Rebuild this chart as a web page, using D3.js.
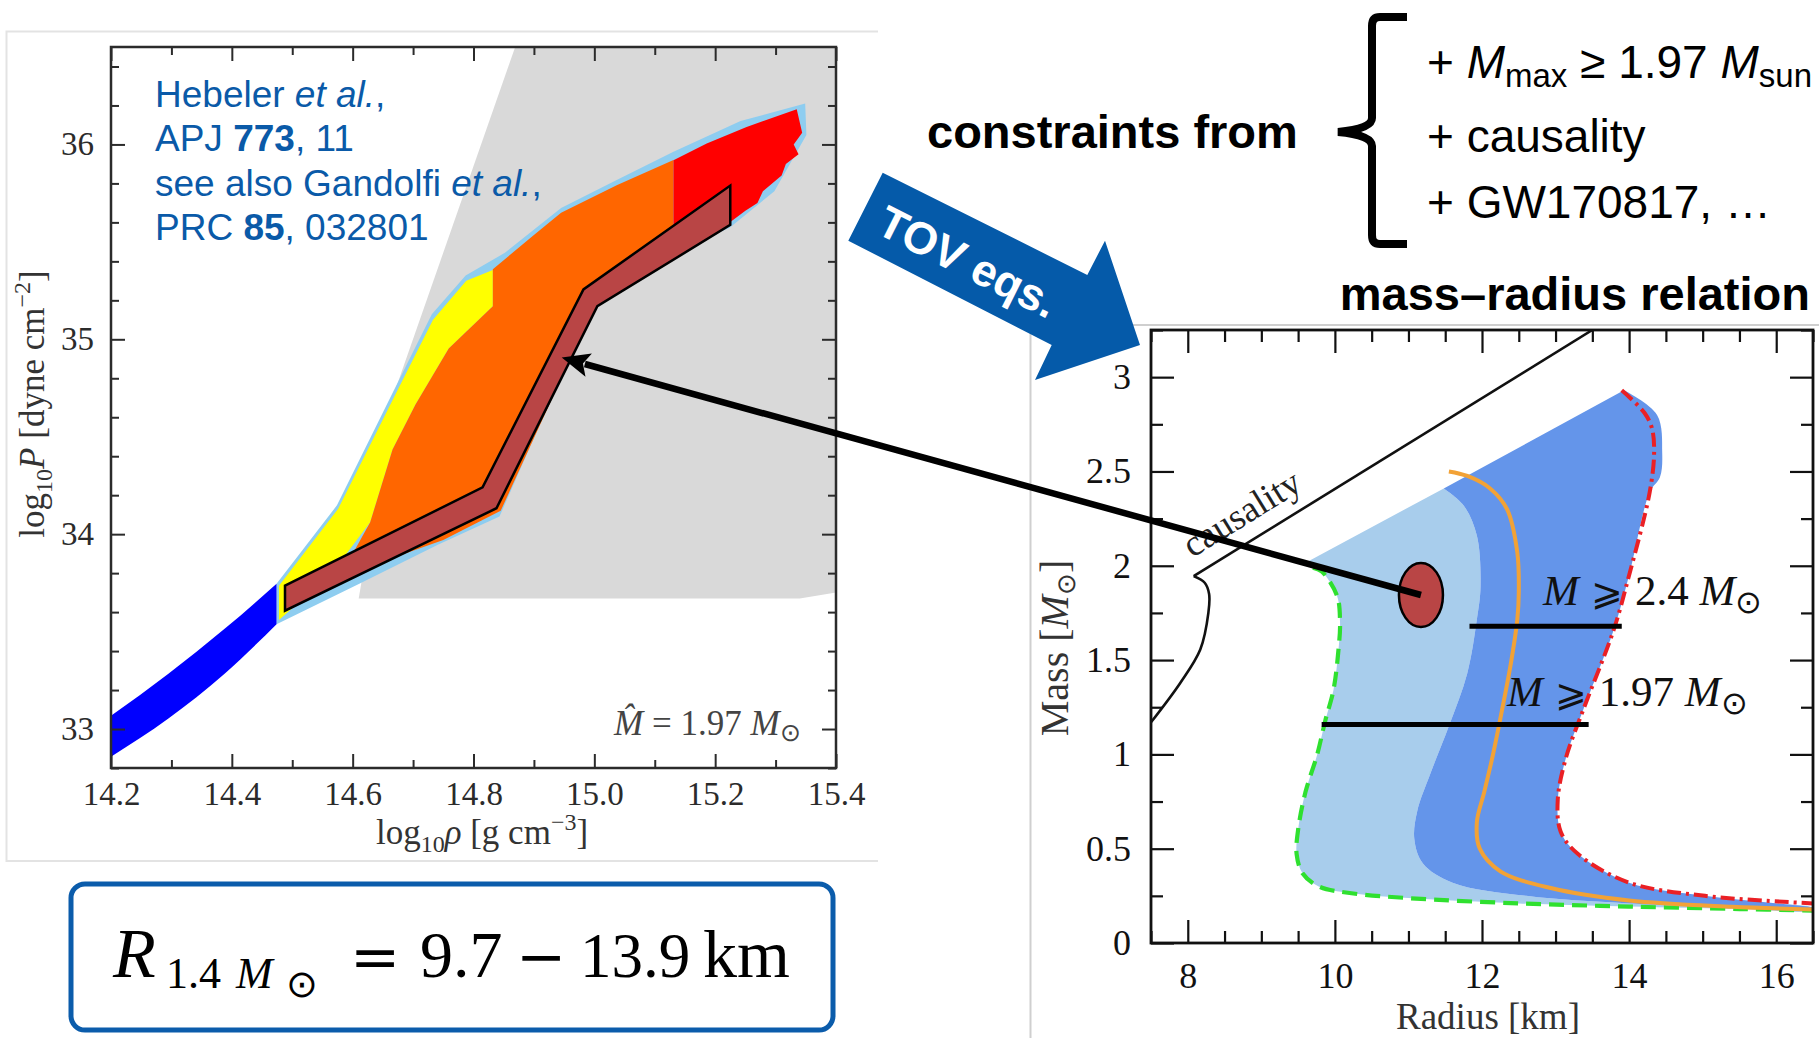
<!DOCTYPE html>
<html>
<head>
<meta charset="utf-8">
<script src="https://cdn.jsdelivr.net/npm/d3@7"></script>
<style>
  body { margin: 0; background: #fff; }
  svg { display: block; }
</style>
</head>
<body>
<svg id="slide" width="1819" height="1038"></svg>
<script>
// ---- left panel: EOS band, log10 rho vs log10 P ----
const eosGray = [[14.869,36.5],[15.4,36.5],[15.4,33.70],[15.34,33.67],[14.61,33.67],[14.666,34.70]];
const eosEnvelope = [[14.474,33.745],[14.574,34.148],[14.666,34.724],[14.731,35.128],[14.787,35.328],[14.852,35.444],
  [14.945,35.674],[15.037,35.818],[15.131,35.962],[15.242,36.12],[15.349,36.21],[15.351,36.048],[15.298,35.76],
  [15.224,35.573],[15.131,35.444],[15.038,35.27],[15.0,35.17],[14.973,34.983],[14.908,34.55],[14.843,34.09],
  [14.741,33.946],[14.611,33.745],[14.474,33.538]];
const eosYellow = [[14.478,33.735],[14.576,34.13],[14.668,34.70],[14.733,35.10],[14.788,35.30],[14.832,35.355],
  [14.832,35.17],[14.759,34.953],[14.704,34.666],[14.666,34.435],[14.629,34.061],[14.58,33.86],[14.50,33.62],[14.478,33.56]];
const eosOrange = [[14.832,35.36],[14.898,35.53],[14.945,35.65],[15.037,35.79],[15.131,35.92],[15.131,35.52],
  [15.05,35.33],[15.01,35.20],[14.975,35.0],[14.91,34.56],[14.845,34.12],[14.75,33.97],[14.64,33.85],[14.60,33.90],
  [14.629,34.061],[14.666,34.435],[14.704,34.666],[14.759,34.953],[14.832,35.17]];
const eosRed = [[15.131,35.919],[15.186,36.005],[15.252,36.09],[15.335,36.18],[15.344,36.06],[15.33,36.0],
  [15.338,35.95],[15.317,35.90],[15.31,35.84],[15.279,35.76],[15.27,35.70],[15.25,35.66],[15.224,35.60],
  [15.19,35.58],[15.131,35.52]];
const crustTop = [[14.2,33.068],[14.295,33.284],[14.388,33.514],[14.474,33.745]];
const crustBottom = [[14.2,32.858],[14.295,33.054],[14.388,33.284],[14.474,33.538]];
const highlightBand = [[14.488,33.736],[14.815,34.24],[14.982,35.256],[15.225,35.789],[15.225,35.587],
  [15.005,35.17],[14.838,34.133],[14.488,33.607]];
const rhoTicks = [14.2,14.4,14.6,14.8,15.0,15.2,15.4];
const rhoMinor = [14.3,14.5,14.7,14.9,15.1,15.3];
const pTicks = [33,34,35,36];
const pMinor = [32.8,33.2,33.4,33.6,33.8,34.2,34.4,34.6,34.8,35.2,35.4,35.6,35.8,36.2,36.4];

// ---- right panel: mass-radius ----
const greenEdge = [[9.7,1.99],[9.82,1.97],[10.03,1.84],[10.07,1.70],[10.05,1.56],[9.98,1.34],[9.87,1.18],[9.76,1.0],
  [9.6,0.8],[9.5,0.6],[9.48,0.47],[9.56,0.37],[9.78,0.30],[10.2,0.265],[11,0.238],[12.5,0.21],[14,0.193],[15.5,0.18],[16.5,0.172]];
const lightCorner = [9.57,2.01];
const darkEdge = [[11.48,2.41],[11.75,2.32],[11.93,2.16],[11.98,1.89],[11.93,1.715],[11.8,1.43],[11.55,1.15],
  [11.3,0.9],[11.12,0.7],[11.08,0.55],[11.2,0.42],[11.6,0.32],[12.6,0.25],[14,0.21],[16.5,0.187]];
const redEdge = [[13.90,2.93],[14.21,2.81],[14.31,2.73],[14.34,2.60],[14.28,2.39],[14.0,1.95],[13.79,1.66],
  [13.38,1.24],[13.14,0.98],[13.03,0.76],[13.07,0.59],[13.31,0.47],[14.0,0.32],[15.03,0.25],[16.5,0.21]];
const darkTopRight = [[14.42,2.47],[14.45,2.6],[14.38,2.80],[13.93,2.93]];
const orangeLine = [[11.55,2.50],[11.80,2.476],[12.11,2.41],[12.34,2.30],[12.48,2.07],[12.5,1.86],[12.48,1.715],
  [12.4,1.5],[12.28,1.25],[12.15,1.0],[12.03,0.8],[11.93,0.64],[11.97,0.5],[12.25,0.38],[12.95,0.29],[14,0.225],
  [15.4,0.192],[16.5,0.178]];
const causalityCurve = [[7.5,1.17],[7.9,1.38],[8.17,1.556],[8.28,1.75],[8.29,1.85],[8.23,1.91],[8.08,1.945]];
const causalityLine = [[8.08,1.945],[13.5,3.25]];
const limitMass = [1.68, 1.158];
const limitR0 = [11.83, 9.82];
const limitR1 = [13.9, 13.45];
const limitLabels = ["2.4", "1.97"];
const radiusTicks = [8,10,12,14,16];
const radiusMinor = [7.5,8.5,9,9.5,10.5,11,11.5,12.5,13,13.5,14.5,15,15.5,16.5];
const massTicks = [0,0.5,1,1.5,2,2.5,3];
const massMinor = [0.25,0.75,1.25,1.75,2.25,2.75,3.25];
const starPoint = [11.17, 1.845];
const eosPoint = [14.946, 34.906];

const svg = d3.select("#slide");
const SERIF = "'Liberation Serif','Times New Roman',serif";
const SANS = "'Liberation Sans',Arial,sans-serif";
const BLUE = "#0a5aa8";

// panel borders (pasted figures)
svg.append("path").attr("d", "M878,31.5H6.5V861H878").attr("fill", "none").attr("stroke", "#e3e3e3").attr("stroke-width", 2);
svg.append("path").attr("d", "M1819,325H1030.5V1038").attr("fill", "none").attr("stroke", "#cfcfcf").attr("stroke-width", 2);

// ---------------- left chart ----------------
const xL = d3.scaleLinear().domain([14.2, 15.4]).range([111, 836]);
const yL = d3.scaleLinear().domain([32.8, 36.5]).range([768, 47]);
const lineL = d3.line().x(d => xL(d[0])).y(d => yL(d[1]));
const smoothL = d3.line().x(d => xL(d[0])).y(d => yL(d[1])).curve(d3.curveMonotoneX);

svg.append("clipPath").attr("id", "clipL").append("rect")
  .attr("x", xL(14.2)).attr("y", yL(36.5)).attr("width", xL(15.4) - xL(14.2)).attr("height", yL(32.8) - yL(36.5));
const gL = svg.append("g").attr("clip-path", "url(#clipL)");

gL.append("path").attr("d", lineL(eosGray) + "Z").attr("fill", "#d9d9d9");
gL.append("path").attr("d", lineL(eosEnvelope) + "Z").attr("fill", "#8ecdf0");
gL.append("path").attr("d", lineL(eosYellow) + "Z").attr("fill", "#ffff00");
gL.append("path").attr("d", lineL(eosOrange) + "Z").attr("fill", "#ff6600");
gL.append("path").attr("d", lineL(eosRed) + "Z").attr("fill", "#ff0000");
gL.append("path").attr("d", smoothL(crustTop) + "L" + smoothL(crustBottom.slice().reverse()).slice(1) + "Z").attr("fill", "#0000ff");
gL.append("path").attr("d", lineL(highlightBand) + "Z")
  .attr("fill", "#b94545").attr("stroke", "#000").attr("stroke-width", 2.5).attr("stroke-linejoin", "miter");

function frameAxes(x, y, opt) {
  const [x0, x1] = x.range(), [y0, y1] = y.range();
  const mk = (g, axis) => g.call(axis).call(s => s.select(".domain").remove());
  const style = g => g.attr("color", opt.color).attr("font-family", SERIF).attr("font-size", opt.fs)
    .selectAll("line").attr("stroke-width", opt.tw);
  // bottom
  style(mk(svg.append("g").attr("transform", `translate(0,${y0})`),
    d3.axisBottom(x).tickValues(opt.xt).tickSize(-opt.big).tickPadding(opt.xpad).tickFormat(opt.xf)));
  style(mk(svg.append("g").attr("transform", `translate(0,${y0})`),
    d3.axisBottom(x).tickValues(opt.xm).tickSize(-opt.small).tickFormat("")));
  // top
  style(mk(svg.append("g").attr("transform", `translate(0,${y1})`),
    d3.axisTop(x).tickValues(opt.xt).tickSize(-opt.big).tickFormat("")));
  style(mk(svg.append("g").attr("transform", `translate(0,${y1})`),
    d3.axisTop(x).tickValues(opt.xm).tickSize(-opt.small).tickFormat("")));
  // left
  style(mk(svg.append("g").attr("transform", `translate(${x0},0)`),
    d3.axisLeft(y).tickValues(opt.yt).tickSize(-opt.big).tickPadding(opt.ypad).tickFormat(opt.yf)));
  style(mk(svg.append("g").attr("transform", `translate(${x0},0)`),
    d3.axisLeft(y).tickValues(opt.ym).tickSize(-opt.small).tickFormat("")));
  // right
  style(mk(svg.append("g").attr("transform", `translate(${x1},0)`),
    d3.axisRight(y).tickValues(opt.yt).tickSize(-opt.big).tickFormat("")));
  style(mk(svg.append("g").attr("transform", `translate(${x1},0)`),
    d3.axisRight(y).tickValues(opt.ym).tickSize(-opt.small).tickFormat("")));
  svg.append("rect").attr("x", x0).attr("y", y1).attr("width", x1 - x0).attr("height", y0 - y1)
    .attr("fill", "none").attr("stroke", opt.color).attr("stroke-width", opt.fw);
}

frameAxes(xL, yL, {
  xt: rhoTicks, xm: rhoMinor, yt: pTicks, ym: pMinor, big: 14, small: 8, tw: 2, fw: 2.5,
  xpad: 14, ypad: 17, xf: d3.format(".1f"), yf: d3.format("d"), fs: 33, color: "#2b2b2b"
});

// axis titles (left)
const xt = svg.append("text").attr("x", 482).attr("y", 844).attr("text-anchor", "middle")
  .attr("font-family", SERIF).attr("font-size", 35).attr("fill", "#333");
xt.append("tspan").text("log");
xt.append("tspan").attr("font-size", 24).attr("dy", 8).text("10");
xt.append("tspan").attr("dy", -8).attr("font-style", "italic").text("\u03c1");
xt.append("tspan").text(" [g cm");
xt.append("tspan").attr("font-size", 24).attr("dy", -14).text("\u22123");
xt.append("tspan").attr("dy", 14).text("]");

const yt = svg.append("text").attr("transform", "translate(44,404) rotate(-90)").attr("text-anchor", "middle")
  .attr("font-family", SERIF).attr("font-size", 35).attr("fill", "#333");
yt.append("tspan").text("log");
yt.append("tspan").attr("font-size", 24).attr("dy", 8).text("10");
yt.append("tspan").attr("dy", -8).attr("font-style", "italic").text("P");
yt.append("tspan").text(" [dyne cm");
yt.append("tspan").attr("font-size", 24).attr("dy", -14).text("\u22122");
yt.append("tspan").attr("dy", 14).text("]");

const mh = svg.append("text").attr("x", 614).attr("y", 735).attr("font-family", SERIF).attr("font-size", 35).attr("fill", "#444");
mh.append("tspan").attr("font-style", "italic").text("M\u0302");
mh.append("tspan").text(" = 1.97 ");
mh.append("tspan").attr("font-style", "italic").text("M");
mh.append("tspan").attr("font-size", 25).attr("dy", 6).text("\u2299");

// reference text
const refLines = [
  [["Hebeler ", ""], ["et al.", "i"], [",", ""]],
  [["APJ ", ""], ["773", "b"], [", 11", ""]],
  [["see also Gandolfi ", ""], ["et al.", "i"], [",", ""]],
  [["PRC ", ""], ["85", "b"], [", 032801", ""]]
];
refLines.forEach((ln, i) => {
  const t = svg.append("text").attr("x", 155).attr("y", 106.6 + i * 44.6)
    .attr("font-family", SANS).attr("font-size", 37).attr("fill", BLUE);
  ln.forEach(([s, st]) => {
    const sp = t.append("tspan").text(s);
    if (st === "i") sp.attr("font-style", "italic");
    if (st === "b") sp.attr("font-weight", "bold");
  });
});

// ---------------- right chart ----------------
const xR = d3.scaleLinear().domain([7.5, 16.5]).range([1151, 1813]);
const yR = d3.scaleLinear().domain([0, 3.25]).range([943, 330]);
const lineR = d3.line().x(d => xR(d[0])).y(d => yR(d[1]));
const smoothR = d3.line().x(d => xR(d[0])).y(d => yR(d[1])).curve(d3.curveCatmullRom.alpha(0.5));

svg.append("clipPath").attr("id", "clipR").append("rect")
  .attr("x", xR(7.5)).attr("y", yR(3.25)).attr("width", xR(16.5) - xR(7.5)).attr("height", yR(0) - yR(3.25));
const gR = svg.append("g").attr("clip-path", "url(#clipR)");

const lightPoly = [lightCorner].concat(greenEdge, darkEdge.slice().reverse());
gR.append("path").attr("d", smoothR(lightPoly) + "Z").attr("fill", "#a8cdec");
const darkPoly = darkEdge.concat(redEdge.slice(0, -1).reverse().filter(d => d[1] < 2.45), darkTopRight);
gR.append("path").attr("d", smoothR(darkPoly) + "Z").attr("fill", "#6495ea");

gR.append("path").attr("d", smoothR(greenEdge)).attr("fill", "none").attr("stroke", "#2fe02f")
  .attr("stroke-width", 4.2).attr("stroke-dasharray", "15,8");
gR.append("path").attr("d", smoothR(redEdge)).attr("fill", "none").attr("stroke", "#ea2025")
  .attr("stroke-width", 4).attr("stroke-dasharray", "14,5,3,5");
gR.append("path").attr("d", smoothR(orangeLine)).attr("fill", "none").attr("stroke", "#f2a236").attr("stroke-width", 4);
gR.append("path").attr("d", smoothR(causalityCurve)).attr("fill", "none").attr("stroke", "#111").attr("stroke-width", 2.6);
gR.append("path").attr("d", lineR(causalityLine)).attr("fill", "none").attr("stroke", "#111").attr("stroke-width", 2.6);

// causality label along the line
const ang = Math.atan2(yR(causalityLine[1][1]) - yR(causalityLine[0][1]), xR(causalityLine[1][0]) - xR(causalityLine[0][0])) * 180 / Math.PI;
svg.append("text").attr("transform", `translate(${xR(8.06)},${yR(2.04)}) rotate(${ang})`)
  .attr("font-family", SERIF).attr("font-size", 37).attr("fill", "#222").text("causality");

// mass limit lines
limitMass.forEach((m, i) => {
  svg.append("line").attr("x1", xR(limitR0[i])).attr("x2", xR(limitR1[i])).attr("y1", yR(m)).attr("y2", yR(m))
    .attr("stroke", "#000").attr("stroke-width", 5);
});
[[12.83, 1.79], [12.34, 1.256]].forEach(([r, m], i) => {
  const t = svg.append("text").attr("x", xR(r)).attr("y", yR(m)).attr("font-family", SERIF).attr("font-size", 43).attr("fill", "#111");
  t.append("tspan").attr("font-style", "italic").text("M");
  t.append("tspan").attr("font-family", "'DejaVu Sans',sans-serif").attr("font-size", 38).text(" \u2A7E ");
  t.append("tspan").text(limitLabels[i] + " ");
  t.append("tspan").attr("font-style", "italic").text("M");
  t.append("tspan").attr("font-size", 32).attr("dy", 8).text("\u2299");
});

frameAxes(xR, yR, {
  xt: radiusTicks, xm: radiusMinor, yt: massTicks, ym: massMinor, big: 23, small: 12, tw: 2.2, fw: 2.8,
  xpad: 19, ypad: 20, xf: d3.format("d"), yf: d => String(d), fs: 36, color: "#111"
});

svg.append("text").attr("x", 1488).attr("y", 1029).attr("text-anchor", "middle")
  .attr("font-family", SERIF).attr("font-size", 37).attr("fill", "#333").text("Radius [km]");
const mt = svg.append("text").attr("transform", "translate(1068,648) rotate(-90)").attr("text-anchor", "middle")
  .attr("font-family", SERIF).attr("font-size", 40).attr("fill", "#333");
mt.append("tspan").text("Mass [");
mt.append("tspan").attr("font-style", "italic").text("M");
mt.append("tspan").attr("font-size", 26).attr("dy", 7).text("\u2299");
mt.append("tspan").attr("dy", -7).text("]");

// star ellipse
svg.append("ellipse").attr("cx", xR(starPoint[0])).attr("cy", yR(starPoint[1])).attr("rx", 22).attr("ry", 32)
  .attr("fill", "#b94545").attr("stroke", "#000").attr("stroke-width", 2.5);

// black arrow from star to EOS band
{
  const sx = xR(starPoint[0]), sy = yR(starPoint[1]);
  const tx = xL(eosPoint[0]), ty = yL(eosPoint[1]);
  const dx = tx - sx, dy = ty - sy, len = Math.hypot(dx, dy), ux = dx / len, uy = dy / len;
  const hl = 28, hw = 12;
  const bx = tx - ux * hl, by = ty - uy * hl;
  svg.append("line").attr("x1", sx).attr("y1", sy).attr("x2", bx + ux * 4).attr("y2", by + uy * 4)
    .attr("stroke", "#000").attr("stroke-width", 6.5);
  svg.append("path").attr("d", `M${tx},${ty}L${bx - uy * hw},${by + ux * hw}L${bx + ux * 6},${by + uy * 6}L${bx + uy * hw},${by - ux * hw}Z`)
    .attr("fill", "#000");
}

// ---------------- blue TOV arrow ----------------
svg.append("path").attr("d", "M882.7,172.7L1087.3,275L1105,240.7L1140,345L1035,380L1051.7,345L848.3,240.7Z").attr("fill", "#055aa9");
svg.append("text").attr("transform", "translate(968,262) rotate(26.6)").attr("text-anchor", "middle")
  .attr("dominant-baseline", "central").attr("font-family", SANS).attr("font-weight", "bold")
  .attr("font-size", 45).attr("fill", "#fff").text("TOV eqs.");

// ---------------- headings ----------------
svg.append("text").attr("x", 927).attr("y", 148).attr("font-family", SANS).attr("font-weight", "bold")
  .attr("font-size", 47).attr("fill", "#000").text("constraints from");
svg.append("path").attr("d", "M1407,17H1380Q1372,17 1372,26V118Q1372,129 1338,132Q1372,135 1372,146V235Q1372,244 1380,244H1407")
  .attr("fill", "none").attr("stroke", "#000").attr("stroke-width", 8);
const c1 = svg.append("text").attr("x", 1427).attr("y", 78).attr("font-family", SANS).attr("font-size", 46).attr("fill", "#000");
c1.append("tspan").text("+ ");
c1.append("tspan").attr("font-style", "italic").text("M");
c1.append("tspan").attr("font-size", 33).attr("dy", 9).text("max");
c1.append("tspan").attr("dy", -9).text(" \u2265 1.97 ");
c1.append("tspan").attr("font-style", "italic").text("M");
c1.append("tspan").attr("font-size", 33).attr("dy", 9).text("sun");
svg.append("text").attr("x", 1427).attr("y", 152).attr("font-family", SANS).attr("font-size", 46).attr("fill", "#000").text("+ causality");
svg.append("text").attr("x", 1427).attr("y", 218).attr("font-family", SANS).attr("font-size", 46).attr("fill", "#000").text("+ GW170817, \u2026");
svg.append("text").attr("x", 1810).attr("y", 310).attr("text-anchor", "end").attr("font-family", SANS).attr("font-weight", "bold")
  .attr("font-size", 47).attr("fill", "#000").text("mass\u2013radius relation");

// ---------------- result box ----------------
svg.append("rect").attr("x", 71).attr("y", 884).attr("width", 762).attr("height", 146).attr("rx", 14)
  .attr("fill", "#fff").attr("stroke", "#0b5cab").attr("stroke-width", 5);
const f = svg.append("text").attr("y", 977).attr("font-family", SERIF).attr("font-size", 66).attr("fill", "#000");
f.append("tspan").attr("x", 113).attr("font-size", 70).attr("font-style", "italic").text("R");
f.append("tspan").attr("x", 166).attr("dy", 11).attr("font-size", 44).text("1.4");
f.append("tspan").attr("x", 236).attr("font-size", 44).attr("font-style", "italic").text("M");
f.append("tspan").attr("x", 286).attr("dy", 9).attr("font-size", 38).text("\u2299");
f.append("tspan").attr("x", 350).attr("dy", -20).attr("font-family", "'DejaVu Serif',serif").attr("font-size", 60).text("=");
f.append("tspan").attr("x", 420).text("9.7");
f.append("tspan").attr("x", 516).attr("font-family", "'DejaVu Serif',serif").attr("font-size", 60).text("\u2212");
f.append("tspan").attr("x", 580).attr("font-size", 63).text("13.9");
f.append("tspan").attr("x", 703).attr("font-size", 68).text("km");
</script>
</body>
</html>
